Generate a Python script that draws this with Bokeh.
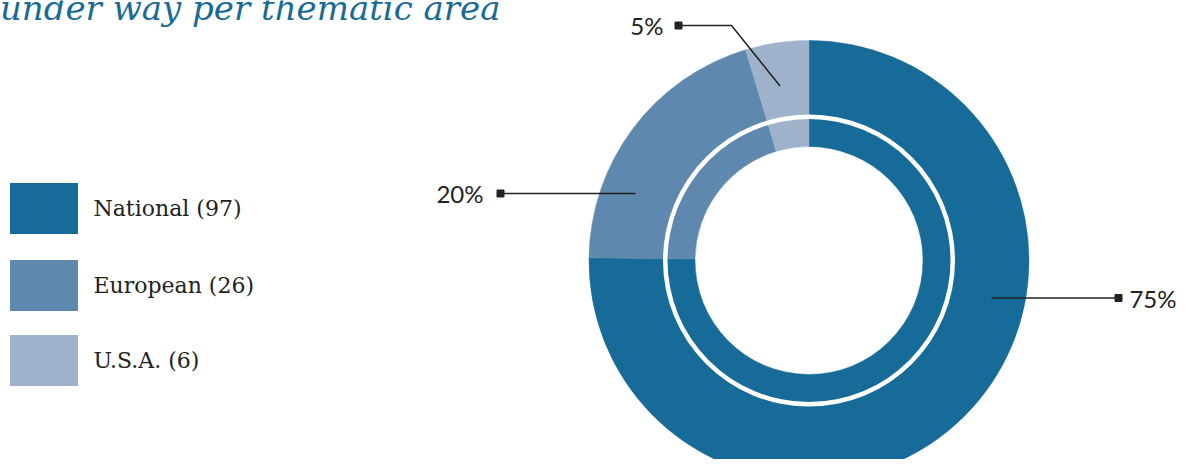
import math
from bokeh.plotting import figure
from bokeh.models import Range1d, ColumnDataSource
from bokeh.core.properties import value
from bokeh.embed import file_html
from bokeh.resources import INLINE

# ---- data ----
categories = ["National", "European", "U.S.A."]
counts = [97, 26, 6]
pct_labels = ["75%", "20%", "5%"]
colors = ["#176b98", "#5e88ae", "#9eb2cb"]
title_text = "under way per thematic area"

# ---- layout (figure pixel coordinates; data y = H - pixel y) ----
W, H = 1177, 459
def Y(py):
    return H - py

cx, cy = 808.5, 260
r_outer, r_inner = 220, 114
ring_in, ring_out = 141.5, 146

p = figure(width=W, height=H, output_backend="svg", toolbar_location=None,
           x_range=Range1d(0, W), y_range=Range1d(0, H), min_border=0)
p.axis.visible = False
p.grid.visible = False
p.outline_line_color = None
p.background_fill_color = "white"
p.border_fill_color = "white"

total = sum(counts)
starts, ends = [], []
cum = 0
for c in counts:
    starts.append(math.pi / 2 - cum / total * 2 * math.pi)
    cum += c
    ends.append(math.pi / 2 - cum / total * 2 * math.pi)

src = ColumnDataSource(dict(x=[cx] * 3, y=[Y(cy)] * 3, start=starts, end=ends, color=colors))
p.annular_wedge(x="x", y="y", inner_radius=r_inner, outer_radius=r_outer,
                inner_radius_units="screen", outer_radius_units="screen",
                start_angle="start", end_angle="end", direction="clock",
                fill_color="color", line_color="color", line_width=0.5, source=src)
p.annulus(x=[cx], y=[Y(cy)], inner_radius=ring_in, outer_radius=ring_out,
          inner_radius_units="screen", outer_radius_units="screen",
          fill_color="white", line_color=None)

# ---- leader lines and percentage labels ----
leaders = {
    "75%": dict(xs=[991, 1118], ys=[297.5, 297.5], mark=(1118, 297.5), tx=1176, ty=297.5, align="right"),
    "20%": dict(xs=[635, 500], ys=[193, 193], mark=(500, 193), tx=483, ty=193, align="right"),
    "5%": dict(xs=[779.5, 731, 678], ys=[85.5, 25, 25], mark=(678, 25), tx=663, ty=25, align="right"),
}
for lab in pct_labels:
    d = leaders[lab]
    p.line(d["xs"], [Y(v) for v in d["ys"]], line_color="#222222", line_width=1.5)
    p.scatter([d["mark"][0]], [Y(d["mark"][1])], marker="square", size=7,
              fill_color="#222222", line_color="#222222")
    p.text([d["tx"]], [Y(d["ty"])], text=[lab], text_font=value("Lato"),
           text_font_size="24px", text_color="#222222", text_align=d["align"],
           text_baseline="middle")

# ---- legend ----
leg_y = [208, 285, 360]
p.rect(x=[43.5] * 3, y=[Y(v) for v in leg_y], width=68, height=51,
       fill_color=colors, line_color=None)
p.text(x=[93] * 3, y=[Y(v) for v in leg_y],
       text=[f"{c} ({n})" for c, n in zip(categories, counts)],
       text_font=value("DejaVu Serif"), text_font_size="22px", text_color="#222222",
       text_align="left", text_baseline="middle")

# ---- title (cropped at top-left) ----
p.text(x=[500], y=[Y(7)], text=[title_text], text_font=value("DejaVu Serif"),
       text_font_style="italic", text_font_size="34px", text_color="#1a6a96",
       text_align="right", text_baseline="alphabetic")

open("out.html", "w").write(file_html(p, INLINE))
